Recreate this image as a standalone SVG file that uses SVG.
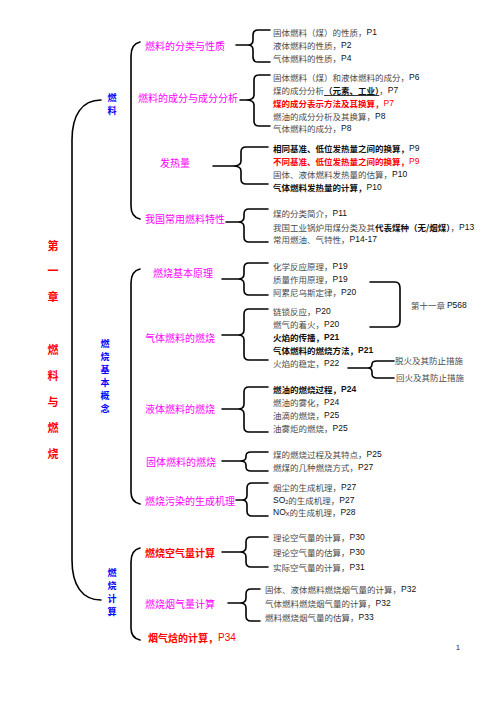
<svg xmlns="http://www.w3.org/2000/svg" width="496" height="702" viewBox="0 0 496 702">
<style>
text{font-family:"Noto Sans CJK SC","Noto Sans",sans-serif;dominant-baseline:central}
.t{font-size:8.5px;fill:#4a4a4a}
.b{font-weight:bold;fill:#111}
.r{font-weight:bold;fill:#ff0000}
.p{font-family:"Liberation Sans",sans-serif;fill:#111}
.m{font-size:10px;fill:#ff00ff}
.blue{font-size:9px;fill:#0000ff;font-weight:bold;text-anchor:middle}
.title{font-size:11px;fill:#ff0000;font-weight:bold;text-anchor:middle}
.c path{fill:none;stroke:#000;stroke-width:1.6;stroke-linecap:round}
</style>
<rect width="496" height="702" fill="#fff"/>
<g class="c" id="connectors">
<path d="M101,100 C82,100 72,115 72,140 L72,560 C72,585 82,600 101,600"/>
<path d="M140,42 Q131,44 131,56 L131,206 Q131,217 140,219"/>
<path d="M140,269 Q131,271 131,283 L131,492 Q131,502 140,504"/>
<path d="M140,548 Q131,550 131,562 L131,628 Q131,638 140,640"/>
<path d="M270,30 L258,30 Q253,30 253,35 L253,40 Q253,45 248,45 Q253,45 253,50 L253,57 Q253,62 258,62 L270,62 M236,45 L248,45"/>
<path d="M270,75 L259,75 Q254,75 254,80 L254,95 Q254,100 246,100 Q254,100 254,105 L254,121 Q254,126 259,126 L270,126 M240,100 L246,100"/>
<path d="M268,147 L246,147 Q241,147 241,152 L241,161 Q241,166 233,166 Q241,166 241,171 L241,179 Q241,184 246,184 L268,184 M213,166 L233,166"/>
<path d="M268,209 L249,209 Q244,209 244,214 L244,217 Q244,222 238,222 Q244,222 244,227 L244,237 Q244,242 249,242 L268,242 M226,222 L238,222"/>
<path d="M268,263 L249,263 Q244,263 244,268 L244,274 Q244,279 238,279 Q244,279 244,284 L244,290 Q244,295 249,295 L268,295 M222,279 L238,279"/>
<path d="M268,309 L249,309 Q244,309 244,314 L244,330 Q244,335 238,335 Q244,335 244,340 L244,355 Q244,360 249,360 L268,360 M222,335 L238,335"/>
<path d="M268,387 L249,387 Q244,387 244,392 L244,404 Q244,409 238,409 Q244,409 244,414 L244,427 Q244,432 249,432 L268,432 M222,409 L238,409"/>
<path d="M268,452 L251,452 Q246,452 246,456 L246,457 Q246,461 240,461 Q246,461 246,465 L246,467 Q246,471 251,471 L268,471 M222,461 L240,461"/>
<path d="M268,483 L252,483 Q247,483 247,488 L247,495 Q247,500 242,500 Q247,500 247,505 L247,511 Q247,516 252,516 L268,516 M236,500 L242,500"/>
<path d="M268,537 L251,537 Q246,537 246,542 L246,547 Q246,552 240,552 Q246,552 246,557 L246,562 Q246,567 251,567 L268,567 M222,552 L240,552"/>
<path d="M260,589 L251,589 Q246,589 246,594 L246,598 Q246,603 240,603 Q246,603 246,608 L246,616 Q246,621 251,621 L260,621 M228,603 L240,603"/>
<path d="M370,282 L395,282 Q400,282 400,288 L400,321 Q400,327 395,327 L370,327"/>
<path d="M348,368 L368,368 Q372,368 372,364 Q372,361 377,361 L394,361 M368,368 Q372,368 372,372 L372,374 Q372,378 377,378 L394,378"/>
</g>
<g id="title">
<text class="title" x="53" y="245">第</text>
<text class="title" x="53" y="270">一</text>
<text class="title" x="53" y="296">章</text>
<text class="title" x="53" y="349">燃</text>
<text class="title" x="53" y="375">料</text>
<text class="title" x="53" y="401">与</text>
<text class="title" x="53" y="427">燃</text>
<text class="title" x="53" y="453">烧</text>
</g>
<g id="n-fuel"><text class="blue" x="112" y="97">燃</text><text class="blue" x="112" y="110">料</text></g>
<g id="n-basic"><text class="blue" x="105" y="343">燃</text><text class="blue" x="105" y="356">烧</text><text class="blue" x="105" y="369">基</text><text class="blue" x="105" y="382">本</text><text class="blue" x="105" y="395">概</text><text class="blue" x="105" y="408">念</text></g>
<g id="n-calc"><text class="blue" x="112" y="572">燃</text><text class="blue" x="112" y="585">烧</text><text class="blue" x="112" y="598">计</text><text class="blue" x="112" y="611">算</text></g>
<g id="n-l2">
<g id="n-a1"><text class="m" x="145" y="45">燃料的分类与性质</text></g>
<g id="n-a2"><text class="m" x="138" y="97">燃料的成分与成分分析</text></g>
<g id="n-a3"><text class="m" x="160" y="162">发热量</text></g>
<g id="n-a4"><text class="m" x="145" y="218">我国常用燃料特性</text></g>
<g id="n-b1"><text class="m" x="153" y="272">燃烧基本原理</text></g>
<g id="n-b2"><text class="m" x="145" y="337">气体燃料的燃烧</text></g>
<g id="n-b3"><text class="m" x="145" y="408">液体燃料的燃烧</text></g>
<g id="n-b4"><text class="m" x="146" y="461">固体燃料的燃烧</text></g>
<g id="n-b5"><text class="m" x="145" y="500">燃烧污染的生成机理</text></g>
<g id="n-c1"><text class="m" x="145" y="552" style="fill:#ff0000;font-weight:bold">燃烧空气量计算</text></g>
<g id="n-c2"><text class="m" x="145" y="603">燃烧烟气量计算</text></g>
<g id="n-c3"><text class="m" x="148" y="637" style="fill:#ff0000;font-weight:bold">烟气焓的计算，<tspan style="font-family:'Liberation Sans',sans-serif;font-weight:normal">P34</tspan></text></g>
</g>
<g id="n-l3">
<g id="g1">
<text class="t" x="273" y="32">固体燃料（煤）的性质，<tspan class="p">P1</tspan></text>
<text class="t" x="273" y="45">液体燃料的性质，<tspan class="p">P2</tspan></text>
<text class="t" x="273" y="58">气体燃料的性质，<tspan class="p">P4</tspan></text>
</g>
<g id="g2">
<text class="t" x="273" y="77">固体燃料（煤）和液体燃料的成分，<tspan class="p">P6</tspan></text>
<text class="t" x="273" y="90">煤的成分分析<tspan class="b" text-decoration="underline">（元素、工业）</tspan>，<tspan class="p">P7</tspan></text>
<text class="t r" x="273" y="103">煤的成分表示方法及其换算，<tspan class="p" style="fill:#ff0000;font-weight:normal">P7</tspan></text>
<text class="t" x="273" y="116">燃油的成分分析及其换算，<tspan class="p">P8</tspan></text>
<text class="t" x="273" y="128">气体燃料的成分，<tspan class="p">P8</tspan></text>
</g>
<g id="g3">
<text class="t b" x="273" y="148">相同基准、低位发热量之间的换算，<tspan class="p" style="font-weight:normal">P9</tspan></text>
<text class="t r" x="273" y="161">不同基准、低位发热量之间的换算，<tspan class="p" style="fill:#ff0000;font-weight:normal">P9</tspan></text>
<text class="t" x="273" y="174">固体、液体燃料发热量的估算，<tspan class="p">P10</tspan></text>
<text class="t b" x="273" y="187">气体燃料发热量的计算，<tspan class="p" style="font-weight:normal">P10</tspan></text>
</g>
<g id="g4">
<text class="t" x="273" y="213">煤的分类简介，<tspan class="p">P11</tspan></text>
<text class="t" x="273" y="227">我国工业锅炉用煤分类及其<tspan class="b">代表煤种（无/烟煤）</tspan>，<tspan class="p">P13</tspan></text>
<text class="t" x="273" y="239">常用燃油、气特性，<tspan class="p">P14-17</tspan></text>
</g>
<g id="g5">
<text class="t" x="273" y="266">化学反应原理，<tspan class="p">P19</tspan></text>
<text class="t" x="273" y="279">质量作用原理，<tspan class="p">P19</tspan></text>
<text class="t" x="273" y="292">阿累尼乌斯定律，<tspan class="p">P20</tspan></text>
</g>
<g id="g6">
<text class="t" x="273" y="311">链锁反应，<tspan class="p">P20</tspan></text>
<text class="t" x="273" y="324">燃气的着火，<tspan class="p">P20</tspan></text>
<text class="t b" x="273" y="337">火焰的传播，<tspan class="p">P21</tspan></text>
<text class="t b" x="273" y="350">气体燃料的燃烧方法，<tspan class="p">P21</tspan></text>
<text class="t" x="273" y="363">火焰的稳定，<tspan class="p">P22</tspan></text>
</g>
<g id="n-ch11"><text class="t" x="411" y="305">第十一章 <tspan class="p">P568</tspan></text></g>
<g id="n-f1"><text class="t" x="395" y="360">脱火及其防止措施</text></g>
<g id="n-f2"><text class="t" x="396" y="377">回火及其防止措施</text></g>
<g id="g7">
<text class="t b" x="273" y="389">燃油的燃烧过程，<tspan class="p">P24</tspan></text>
<text class="t" x="273" y="402">燃油的雾化，<tspan class="p">P24</tspan></text>
<text class="t" x="273" y="415">油滴的燃烧，<tspan class="p">P25</tspan></text>
<text class="t" x="273" y="428">油雾炬的燃烧，<tspan class="p">P25</tspan></text>
</g>
<g id="g8">
<text class="t" x="273" y="454">煤的燃烧过程及其特点，<tspan class="p">P25</tspan></text>
<text class="t" x="273" y="467">燃煤的几种燃烧方式，<tspan class="p">P27</tspan></text>
</g>
<g id="g9">
<text class="t" x="273" y="487">烟尘的生成机理，<tspan class="p">P27</tspan></text>
<text class="t" x="273" y="500"><tspan class="p">SO</tspan><tspan class="p" font-size="5.5" dy="2">2</tspan><tspan dy="-2">的生成机理，</tspan><tspan class="p">P27</tspan></text>
<text class="t" x="273" y="512"><tspan class="p">NO</tspan><tspan class="p" font-size="5.5" dy="2">X</tspan><tspan dy="-2">的生成机理，</tspan><tspan class="p">P28</tspan></text>
</g>
<g id="g10">
<text class="t" x="273" y="537">理论空气量的计算，<tspan class="p">P30</tspan></text>
<text class="t" x="273" y="552">理论空气量的估算，<tspan class="p">P30</tspan></text>
<text class="t" x="273" y="567">实际空气量的计算，<tspan class="p">P31</tspan></text>
</g>
<g id="g11">
<text class="t" x="265" y="589">固体、液体燃料燃烧烟气量的计算，<tspan class="p">P32</tspan></text>
<text class="t" x="265" y="603">气体燃料燃烧烟气量的计算，<tspan class="p">P32</tspan></text>
<text class="t" x="265" y="617">燃料燃烧烟气量的估算，<tspan class="p">P33</tspan></text>
</g>
</g>
<text x="458" y="647" style="font-family:'Liberation Sans',sans-serif;font-size:7px;fill:#111;text-anchor:middle">1</text>
</svg>
